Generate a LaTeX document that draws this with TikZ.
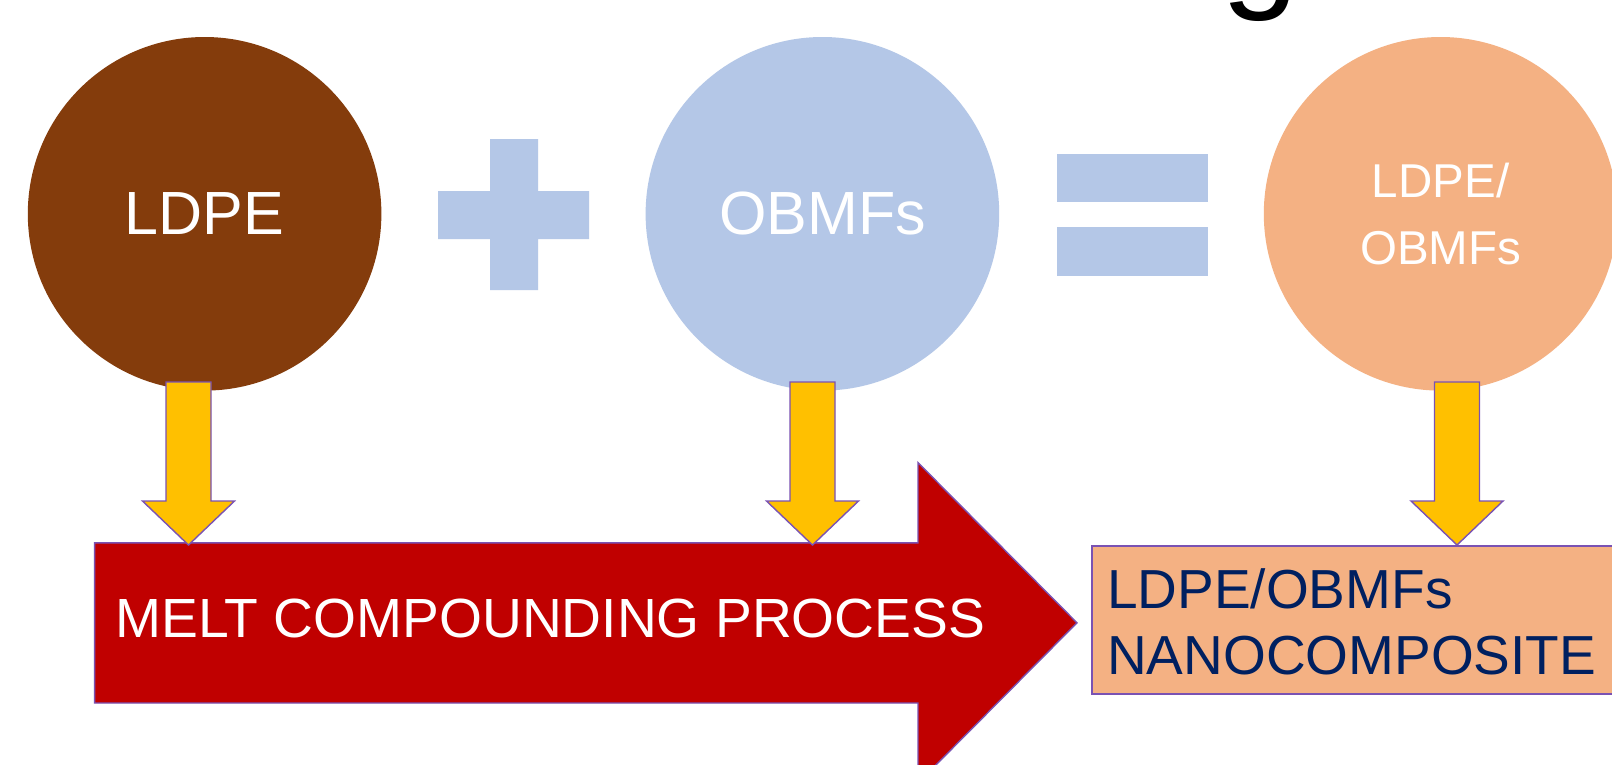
\documentclass[tikz,border=0pt]{standalone}
\usepackage{fontspec}
\setmainfont{Liberation Sans}
\definecolor{ldpebrown}{HTML}{843C0C}
\definecolor{obmfblue}{HTML}{B4C7E7}
\definecolor{mixpeach}{HTML}{F4B183}
\definecolor{feedyellow}{HTML}{FFC000}
\definecolor{meltred}{HTML}{C00000}
\definecolor{edgepurple}{HTML}{7A52B3}
\definecolor{textnavy}{HTML}{002060}

\begin{document}
\begin{tikzpicture}[x=10pt, y=10pt,
        ball/.style={circle, minimum size=353.6pt, inner sep=0pt, text=white},
        feed/.style={fill=feedyellow, draw=edgepurple, line width=1.4pt},
        sign/.style={fill=obmfblue}]
        \tikzstyle{every node}+=[inner sep=0pt]
        \useasboundingbox (0,0) rectangle (161.2,-76.4);
        \clip (0,0) rectangle (161.2,-76.4);
        \fill [white] (0,0) rectangle (161.2,-76.4);
        % bottom of the cut title letter
        \node [anchor=base, font=\fontsize{140}{144}\selectfont] (titleg) at (126.0,0.72) {g};
        % the three balls
        \node [ball, fill=ldpebrown, font=\fontsize{61}{70}\selectfont] (ldpe) at (20.46,-21.38) {LDPE};
        \node [ball, fill=obmfblue, font=\fontsize{61}{70}\selectfont] (obmf) at (82.24,-21.38) {OBMFs};
        \node [ball, fill=mixpeach, align=center, font=\fontsize{47.5}{67}\selectfont] (mix) at (144.06,-21.38) {LDPE/\\OBMFs};
        % plus and equals
        \fill [sign] (49.0,-13.9) -- (53.8,-13.9) -- (53.8,-19.1) -- (58.9,-19.1) -- (58.9,-23.9) -- (53.8,-23.9)
                -- (53.8,-29.0) -- (49.0,-29.0) -- (49.0,-23.9) -- (43.8,-23.9) -- (43.8,-19.1) -- (49.0,-19.1) -- cycle;
        \fill [sign] (105.7,-15.4) rectangle (120.8,-20.2);
        \fill [sign] (105.7,-22.7) rectangle (120.8,-27.6);
        % big process arrow and result box
        \draw [fill=meltred, draw=edgepurple, line width=1.4pt] (9.46,-54.28) -- (91.8,-54.28) -- (91.8,-46.26)
                -- (107.7,-62.28) -- (91.8,-78.3) -- (91.8,-70.3) -- (9.46,-70.3) -- cycle;
        \node [anchor=base west, text=white, font=\fontsize{55.2}{60}\selectfont] (melt) at (11.5,-63.7) {MELT COMPOUNDING PROCESS};
        \draw [fill=mixpeach, draw=edgepurple, line width=1.4pt] (109.2,-54.6) rectangle (163,-69.4);
        \node [anchor=north west, text=textnavy, align=left, font=\fontsize{55}{66}\selectfont] (nano) at (110.7,-56.8) {LDPE/OBMFs\\NANOCOMPOSITE};
        % feeding arrows
        \draw [feed] (16.6,-38.2) -- (21.1,-38.2) -- (21.1,-50.1) -- (23.45,-50.1) -- (18.85,-54.5) -- (14.25,-50.1) -- (16.6,-50.1) -- cycle;
        \draw [feed] (79.0,-38.2) -- (83.5,-38.2) -- (83.5,-50.1) -- (85.85,-50.1) -- (81.25,-54.5) -- (76.65,-50.1) -- (79.0,-50.1) -- cycle;
        \draw [feed] (143.45,-38.2) -- (147.95,-38.2) -- (147.95,-50.1) -- (150.3,-50.1) -- (145.7,-54.5) -- (141.1,-50.1) -- (143.45,-50.1) -- cycle;
\end{tikzpicture}
\end{document}
